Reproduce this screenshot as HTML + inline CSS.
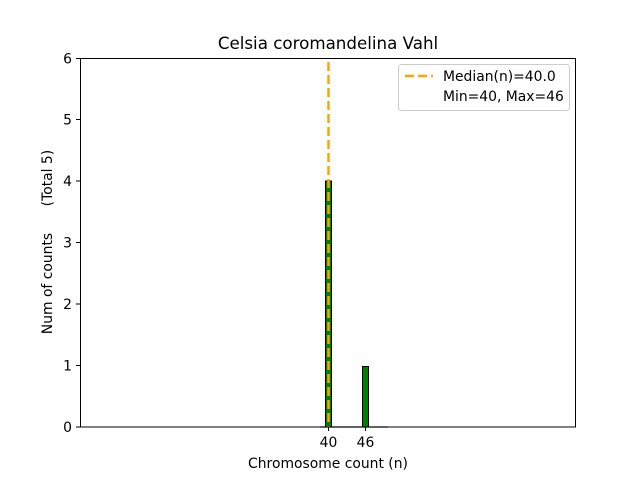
<!DOCTYPE html>
<html><head><style>body{margin:0;background:#fff}svg{display:block}text{font-family:"DejaVu Sans","Liberation Sans",sans-serif;fill:#000;white-space:pre}</style></head><body>
<svg width="640" height="480" xmlns="http://www.w3.org/2000/svg">
<rect width="640" height="480" fill="#fff"/>
<line x1="320" y1="427" x2="388" y2="427" stroke="#888" stroke-width="1.5"/>
<rect x="325.5" y="181" width="6" height="246" fill="green" stroke="#000" stroke-width="1"/>
<rect x="362.5" y="366.5" width="6" height="60.5" fill="green" stroke="#000" stroke-width="1"/>
<line x1="328.5" y1="62" x2="328.5" y2="427" stroke="orange" stroke-width="2.5" stroke-dasharray="9,4"/>
<rect x="80.5" y="58.5" width="495" height="368.5" fill="none" stroke="#000" stroke-width="1"/>
<g stroke="#000"><line x1="76" y1="427" x2="80" y2="427"/><line x1="76" y1="365.5" x2="80" y2="365.5"/><line x1="76" y1="304" x2="80" y2="304"/><line x1="76" y1="242.5" x2="80" y2="242.5"/><line x1="76" y1="181" x2="80" y2="181"/><line x1="76" y1="119.5" x2="80" y2="119.5"/><line x1="76" y1="58.5" x2="80" y2="58.5"/>
<line x1="328.5" y1="427" x2="328.5" y2="431"/><line x1="365.5" y1="427" x2="365.5" y2="431"/></g>
<g font-size="13.9" text-anchor="end"><text x="72" y="432">0</text><text x="72" y="370.5">1</text><text x="72" y="309">2</text><text x="72" y="247.5">3</text><text x="72" y="186">4</text><text x="72" y="124.5">5</text><text x="72" y="63.5">6</text></g>
<g font-size="13.9" text-anchor="middle"><text x="328.5" y="447">40</text><text x="365.5" y="447">46</text>
<text x="328" y="468">Chromosome count (n)</text></g>
<text x="328" y="49" font-size="16.7" text-anchor="middle">Celsia coromandelina Vahl</text>
<text transform="translate(52,242) rotate(-90)" font-size="13.9" text-anchor="middle" xml:space="preserve">Num of counts      (Total 5)</text>
<rect x="398.5" y="64.5" width="171" height="46" rx="3" fill="#fff" stroke="#ccc"/>
<line x1="405" y1="76" x2="433" y2="76" stroke="orange" stroke-width="2.5" stroke-dasharray="9,4"/>
<text x="443" y="81" font-size="13.9">Median(n)=40.0</text>
<text x="443" y="101" font-size="13.9">Min=40, Max=46</text>
</svg>
</body></html>
